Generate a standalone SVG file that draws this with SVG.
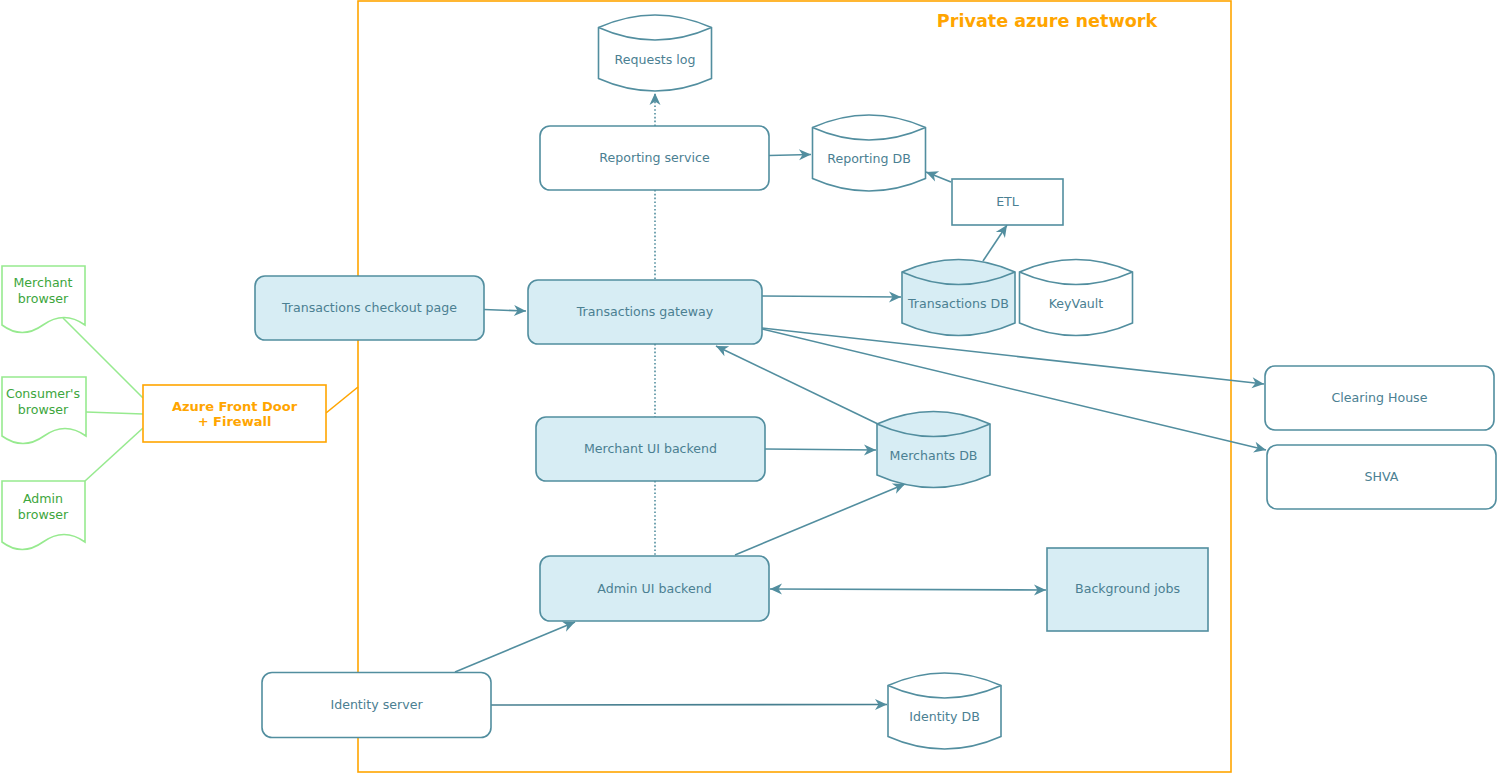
<svg xmlns="http://www.w3.org/2000/svg" width="1497" height="773" viewBox="0 0 1497 773">
<defs>
<style>
.n{fill:#fff;stroke:#528e9f;stroke-width:1.6}
.f{fill:#d7edf4;stroke:#528e9f;stroke-width:1.6}
.t{font-family:"DejaVu Sans",sans-serif;font-size:12.6px;fill:#4b8092;text-anchor:middle}
.g{font-family:"DejaVu Sans",sans-serif;font-size:12.6px;fill:#3da63d;text-anchor:middle}
.o{font-family:"DejaVu Sans",sans-serif;font-weight:bold;fill:#ffa500;text-anchor:middle}
.doc{fill:#fff;stroke:#97ea8f;stroke-width:1.6}
.c{fill:none;stroke:#528e9f;stroke-width:1.6}
.d{fill:none;stroke:#528e9f;stroke-width:1.6;stroke-dasharray:1.6 2.2}
.gl{fill:none;stroke:#97ea8f;stroke-width:1.6}
</style>
<marker id="a" markerUnits="userSpaceOnUse" markerWidth="13" markerHeight="12" refX="12" refY="5.5" orient="auto" overflow="visible">
<path d="M0,0 L12,5.5 L0,11 L3.5,5.5 Z" fill="#528e9f"/>
</marker>
<marker id="as" markerUnits="userSpaceOnUse" markerWidth="13" markerHeight="12" refX="12" refY="5.5" orient="auto-start-reverse" overflow="visible">
<path d="M0,0 L12,5.5 L0,11 L3.5,5.5 Z" fill="#528e9f"/>
</marker>
</defs>
<rect width="1497" height="773" fill="#fff"/>

<g id="private-network">
<rect x="358" y="1" width="873" height="771" fill="none" stroke="#ffa500" stroke-width="1.6"/>
<text class="o" x="1047" y="27" font-size="17.6">Private azure network</text>
</g>

<g id="connectors">
<line class="gl" x1="63" y1="318" x2="143" y2="398"/>
<line class="gl" x1="86" y1="412" x2="143" y2="414"/>
<line class="gl" x1="85" y1="481" x2="143" y2="428"/>
<line x1="326" y1="413" x2="358" y2="387" stroke="#ffa500" stroke-width="1.6"/>
<line class="d" x1="655" y1="126" x2="655" y2="93" marker-end="url(#a)"/>
<line class="d" x1="655" y1="190" x2="655" y2="280"/>
<line class="d" x1="655" y1="344" x2="655" y2="417"/>
<line class="d" x1="655" y1="481" x2="655" y2="556"/>
<line class="c" x1="484" y1="309.5" x2="526" y2="311" marker-end="url(#a)"/>
<line class="c" x1="769" y1="155.5" x2="811" y2="154.5" marker-end="url(#a)"/>
<line class="c" x1="951" y1="182" x2="926" y2="172" marker-end="url(#a)"/>
<line class="c" x1="983" y1="261" x2="1007" y2="225" marker-end="url(#a)"/>
<line class="c" x1="762" y1="296" x2="901" y2="297" marker-end="url(#a)"/>
<line class="c" x1="762" y1="328" x2="1264" y2="384" marker-end="url(#a)"/>
<line class="c" x1="762" y1="329" x2="1266" y2="450" marker-end="url(#a)"/>
<line class="c" x1="765" y1="449" x2="876" y2="450" marker-end="url(#a)"/>
<line class="c" x1="878" y1="424" x2="716" y2="346" marker-end="url(#a)"/>
<line class="c" x1="735" y1="555" x2="905" y2="484" marker-end="url(#a)"/>
<line class="c" x1="770" y1="589" x2="1046" y2="590" marker-start="url(#as)" marker-end="url(#as)"/>
<line class="c" x1="455" y1="672" x2="575" y2="622" marker-end="url(#a)"/>
<line x1="491" y1="705" x2="887" y2="704.5" fill="none" stroke="#477f90" stroke-width="1.6" marker-end="url(#a)"/>
</g>

<g id="merchant-browser">
<path class="doc" d="M2,266 H85 V325 Q64,310 43,325 Q22,340 2,325 Z"/>
<text class="g" x="43" y="287">Merchant</text>
<text class="g" x="43" y="303">browser</text>
</g>
<g id="consumer-browser">
<path class="doc" d="M2,377 H86 V436 Q65,421 44,436 Q23,451 2,436 Z"/>
<text class="g" x="43" y="398">Consumer's</text>
<text class="g" x="43" y="414">browser</text>
</g>
<g id="admin-browser">
<path class="doc" d="M2,481 H85 V542 Q64,527 43,542 Q22,557 2,542 Z"/>
<text class="g" x="43" y="503">Admin</text>
<text class="g" x="43" y="519">browser</text>
</g>

<g id="front-door">
<rect x="143" y="385" width="183" height="57" fill="#fff" stroke="#ffa500" stroke-width="1.6"/>
<text class="o" x="234.5" y="410.5" font-size="13">Azure Front Door</text>
<text class="o" x="234.5" y="426" font-size="13">+ Firewall</text>
</g>

<g id="checkout-page">
<rect class="f" x="255" y="276" width="229" height="64" rx="10"/>
<text class="t" x="369.5" y="311.5">Transactions checkout page</text>
</g>

<g id="requests-log">
<path class="n" d="M598.5,27.5 Q655,2.5 711.5,27.5 V78.5 Q655,103.5 598.5,78.5 Z"/>
<path class="n" fill="none" d="M598.5,27.5 Q655,52.5 711.5,27.5"/>
<text class="t" x="655" y="63.5">Requests log</text>
</g>

<g id="reporting-service">
<rect class="n" x="540" y="126" width="229" height="64" rx="10"/>
<text class="t" x="654.5" y="162">Reporting service</text>
</g>

<g id="reporting-db">
<path class="n" d="M812.5,127.5 Q869,102.5 925.5,127.5 V178.5 Q869,203.5 812.5,178.5 Z"/>
<path class="n" fill="none" d="M812.5,127.5 Q869,152.5 925.5,127.5"/>
<text class="t" x="869" y="163">Reporting DB</text>
</g>

<g id="etl">
<rect class="n" x="952" y="179" width="111" height="46"/>
<text class="t" x="1007.5" y="206">ETL</text>
</g>

<g id="transactions-gateway">
<rect class="f" x="528" y="280" width="234" height="64" rx="10"/>
<text class="t" x="645" y="315.5">Transactions gateway</text>
</g>

<g id="transactions-db">
<path class="f" d="M902,272 Q958.5,247 1015,272 V323 Q958.5,348 902,323 Z"/>
<path class="f" fill="none" d="M902,272 Q958.5,297 1015,272"/>
<text class="t" x="958.5" y="307.5">Transactions DB</text>
</g>

<g id="keyvault">
<path class="n" d="M1019.5,272 Q1076,247 1132.5,272 V323 Q1076,348 1019.5,323 Z"/>
<path class="n" fill="none" d="M1019.5,272 Q1076,297 1132.5,272"/>
<text class="t" x="1076" y="307.5">KeyVault</text>
</g>

<g id="clearing-house">
<rect class="n" x="1265" y="366" width="229" height="64" rx="10"/>
<text class="t" x="1379.5" y="402">Clearing House</text>
</g>

<g id="shva">
<rect class="n" x="1267" y="445" width="229" height="64" rx="10"/>
<text class="t" x="1381.5" y="481">SHVA</text>
</g>

<g id="merchant-ui-backend">
<rect class="f" x="536" y="417" width="229" height="64" rx="10"/>
<text class="t" x="650.5" y="452.5">Merchant UI backend</text>
</g>

<g id="merchants-db">
<path class="f" d="M877,424 Q933.5,399 990,424 V475 Q933.5,500 877,475 Z"/>
<path class="f" fill="none" d="M877,424 Q933.5,449 990,424"/>
<text class="t" x="933.5" y="459.5">Merchants DB</text>
</g>

<g id="admin-ui-backend">
<rect class="f" x="540" y="556" width="229" height="65" rx="10"/>
<text class="t" x="654.5" y="592.5">Admin UI backend</text>
</g>

<g id="background-jobs">
<rect class="f" x="1047" y="548" width="161" height="83"/>
<text class="t" x="1127.5" y="593">Background jobs</text>
</g>

<g id="identity-server">
<rect class="n" x="262" y="672.5" width="229" height="65" rx="10"/>
<text class="t" x="376.5" y="709">Identity server</text>
</g>

<g id="identity-db">
<path class="n" d="M888,685.5 Q944.5,660.5 1001,685.5 V736.5 Q944.5,761.5 888,736.5 Z"/>
<path class="n" fill="none" d="M888,685.5 Q944.5,710.5 1001,685.5"/>
<text class="t" x="944.5" y="721">Identity DB</text>
</g>
</svg>
